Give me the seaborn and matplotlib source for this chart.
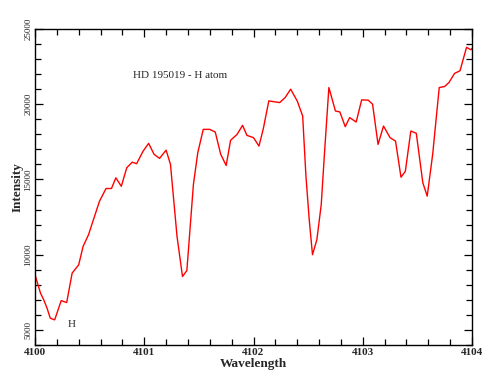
import pandas as pd
import matplotlib
matplotlib.use('Agg')
import matplotlib.pyplot as plt
from matplotlib.ticker import MultipleLocator
import seaborn as sns

# Spectrum
wavelength = [4100.00, 4100.05, 4100.08, 4100.11, 4100.14, 4100.18, 4100.24, 4100.29,
              4100.34, 4100.40, 4100.44, 4100.49, 4100.53, 4100.59, 4100.65, 4100.70,
              4100.74, 4100.79, 4100.84, 4100.89, 4100.93, 4100.99, 4101.04, 4101.09,
              4101.14, 4101.20, 4101.24, 4101.30, 4101.35, 4101.39, 4101.45, 4101.49,
              4101.54, 4101.60, 4101.65, 4101.70, 4101.75, 4101.79, 4101.85, 4101.90,
              4101.94, 4102.00, 4102.05, 4102.09, 4102.14, 4102.24, 4102.29, 4102.34,
              4102.40, 4102.45, 4102.48, 4102.51, 4102.54, 4102.58, 4102.62, 4102.65,
              4102.69, 4102.75, 4102.79, 4102.84, 4102.88, 4102.94, 4102.99, 4103.05,
              4103.09, 4103.14, 4103.19, 4103.25, 4103.30, 4103.35, 4103.39, 4103.44,
              4103.49, 4103.55, 4103.59, 4103.64, 4103.70, 4103.75, 4103.79, 4103.84,
              4103.89, 4103.95, 4103.99, 4104.00]
intensity = [8670, 7450, 7000, 6450, 5780, 5670, 6950, 6820,
             8780, 9330, 10550, 11330, 12220, 13550, 14400, 14400,
             15110, 14550, 15780, 16150, 16050, 16890, 17400, 16670,
             16400, 16950, 16000, 11220, 8550, 8950, 14670, 16780,
             18330, 18330, 18150, 16670, 15930, 17600, 18000, 18600,
             17930, 17780, 17220, 18380, 20220, 20110, 20450, 21000,
             20220, 19220, 15220, 12330, 10000, 11000, 13330, 16780,
             21110, 19550, 19490, 18510, 19110, 18820, 20290, 20270,
             20000, 17330, 18550, 17780, 17550, 15150, 15550, 18220,
             18070, 14780, 13890, 16670, 21110, 21180, 21450, 22050,
             22220, 23780, 23620, 23700]

df = pd.DataFrame({'Wavelength': wavelength, 'Intensity': intensity})

sns.set_style('ticks')
plt.rcParams['font.family'] = ['Liberation Serif', 'DejaVu Serif']

fig = plt.figure(figsize=(4.83, 3.72), dpi=100)
ax = fig.add_axes([35/483, 27/372, 437/483, 316/372])

sns.lineplot(data=df, x='Wavelength', y='Intensity', color='red', linewidth=1.0, ax=ax)

ax.set_xlim(4100, 4104)
ax.set_ylim(4000, 25000)
ax.xaxis.set_major_locator(MultipleLocator(1))
ax.xaxis.set_minor_locator(MultipleLocator(0.2))
ax.yaxis.set_major_locator(MultipleLocator(5000))
ax.yaxis.set_minor_locator(MultipleLocator(1000))
ax.tick_params(which='both', direction='in', top=True, right=True, color='black', width=0.9)
ax.tick_params(which='major', length=6)
ax.tick_params(which='minor', length=4)
ax.tick_params(axis='x', labelsize=8, pad=2)
ax.tick_params(axis='y', labelsize=6.5, pad=2)
for lab in ax.get_xticklabels():
    lab.set_fontweight('bold')
plt.setp(ax.get_yticklabels(), rotation=90, va='center')
for s in ax.spines.values():
    s.set_linewidth(1.0)
    s.set_color('black')

ax.set_xlabel('Wavelength', fontsize=9.5, fontweight='bold')
ax.set_ylabel('Intensity', fontsize=9.5, fontweight='bold')
ax.xaxis.set_label_coords(0.5, -0.04)
ax.yaxis.set_label_coords(-0.027, 0.5)

ax.text(4100.90, 21930, 'HD 195019 - H atom', fontsize=8, va='center', ha='left')
ax.text(4100.335, 5330, 'H', fontsize=8, va='center', ha='center')

fig.savefig('out.png', dpi=100)
